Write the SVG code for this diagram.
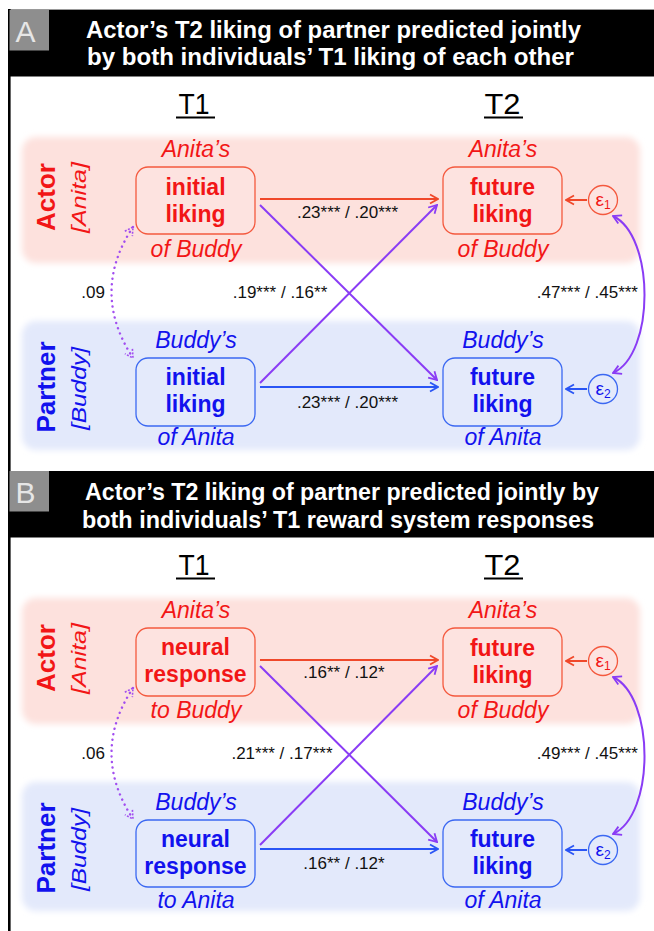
<svg xmlns="http://www.w3.org/2000/svg" width="654" height="931" viewBox="0 0 654 931">
<style>
.ttl{font-family:"Liberation Sans Narrow","Liberation Sans",Arial,sans-serif;font-weight:bold;font-size:23px;fill:#fff;text-anchor:middle}
.lt{font-family:"Liberation Sans",Arial,sans-serif;font-size:30px;fill:#e6e6e6;text-anchor:middle}
.tm{font-family:"Liberation Sans Narrow","Liberation Sans",Arial,sans-serif;font-size:29px;fill:#000;text-anchor:middle}
.side{font-family:"Liberation Sans",Arial,sans-serif;font-weight:bold;font-size:26px;text-anchor:middle}
.sidei{font-family:"Liberation Sans",Arial,sans-serif;font-style:italic;font-size:21px;text-anchor:middle}
.bt{font-family:"Liberation Sans",Arial,sans-serif;font-weight:bold;font-size:23px;text-anchor:middle}
.it{font-family:"Liberation Sans",Arial,sans-serif;font-style:italic;font-size:23px;text-anchor:middle}
.num{font-family:"Liberation Sans",Arial,sans-serif;font-size:17px;fill:#111}
.eps{font-family:"Liberation Sans",Arial,sans-serif;font-size:19px;text-anchor:middle}
.red{fill:#f21616}
.blue{fill:#1212ee}
.rbox{fill:#fde3e0;stroke:#f4593e;stroke-width:1.3}
.bbox{fill:#e4eafb;stroke:#3b68f2;stroke-width:1.3}
.band-r{fill:#fde1dd}
.band-b{fill:#e3e9fb}
.ar{fill:none;stroke:#f0482a;stroke-width:2}
.ab{fill:none;stroke:#2a55f5;stroke-width:2}
.ap{fill:none;stroke:#8a3cf5;stroke-width:2}
.dot{fill:none;stroke:#a24ef0;stroke-width:2.4;stroke-dasharray:0.1 5.5;stroke-linecap:round}
.ul{stroke:#000;stroke-width:1.8}
</style>
<defs>
<filter id="soft" x="-5%" y="-10%" width="110%" height="120%"><feGaussianBlur stdDeviation="3"/></filter>
<marker id="mr" markerUnits="userSpaceOnUse" markerWidth="12" markerHeight="12" viewBox="0 0 12 12" refX="11" refY="6" orient="auto-start-reverse"><path d="M3,1.5 L11,6 L3,10.5" fill="none" stroke="#f0482a" stroke-width="1.8"/></marker>
<marker id="mb" markerUnits="userSpaceOnUse" markerWidth="12" markerHeight="12" viewBox="0 0 12 12" refX="11" refY="6" orient="auto-start-reverse"><path d="M3,1.5 L11,6 L3,10.5" fill="none" stroke="#2a55f5" stroke-width="1.8"/></marker>
<marker id="mp" markerUnits="userSpaceOnUse" markerWidth="12" markerHeight="12" viewBox="0 0 12 12" refX="11" refY="6" orient="auto-start-reverse"><path d="M3,1.5 L11,6 L3,10.5" fill="none" stroke="#8a3cf5" stroke-width="1.8"/></marker>
<marker id="md" markerUnits="userSpaceOnUse" markerWidth="12" markerHeight="12" viewBox="0 0 12 12" refX="11" refY="6" orient="auto-start-reverse"><path d="M3,1.5 L11,6 L3,10.5" fill="none" stroke="#a24ef0" stroke-width="1.6" stroke-dasharray="2 1.5"/></marker>
</defs>
<rect x="0" y="0" width="654" height="931" fill="#fff"/>

<g id="frame">
<line x1="9" y1="9.5" x2="654" y2="9.5" stroke="#999" stroke-width="1"/>
<line x1="9.3" y1="9" x2="9.3" y2="931" stroke="#000" stroke-width="2.6"/>
</g>

<!-- ================= PANEL A ================= -->
<g id="headerA">
<rect x="8" y="10" width="646" height="66.5" fill="#000"/>
<rect x="9.5" y="10" width="39.5" height="40.5" fill="#8e8e8e"/>
<text class="lt" x="25.5" y="42">A</text>
<text class="ttl" x="333.5" y="38" textLength="495" lengthAdjust="spacingAndGlyphs">Actor’s T2 liking of partner predicted jointly</text>
<text class="ttl" x="330.5" y="65" textLength="487" lengthAdjust="spacingAndGlyphs">by both individuals’ T1 liking of each other</text>
</g>
<g id="timeA">
<text class="tm" x="194" y="113.5" textLength="31" lengthAdjust="spacingAndGlyphs">T1</text>
<line class="ul" x1="176" y1="117.5" x2="215" y2="117.5"/>
<text class="tm" x="502.5" y="113.5" textLength="36" lengthAdjust="spacingAndGlyphs">T2</text>
<line class="ul" x1="484" y1="117.5" x2="523" y2="117.5"/>
</g>
<g id="bandsA">
<rect class="band-r" x="22" y="137" width="618" height="126" rx="14" filter="url(#soft)"/>
<rect class="band-b" x="22" y="321" width="618" height="129" rx="14" filter="url(#soft)"/>
</g>
<g id="actorLabelA">
<text class="side red" transform="translate(55,197) rotate(-90)">Actor</text>
<text class="sidei red" transform="translate(86,197.5) rotate(-90)" textLength="71" lengthAdjust="spacingAndGlyphs">[Anita]</text>
</g>
<g id="partnerLabelA">
<text class="side blue" transform="translate(55,387) rotate(-90)">Partner</text>
<text class="sidei blue" transform="translate(86,388.5) rotate(-90)" textLength="83" lengthAdjust="spacingAndGlyphs">[Buddy]</text>
</g>

<g id="connectorsA">
<path class="ar" d="M260,199 H438" marker-end="url(#mr)"/>
<path class="ab" d="M260,387 H438" marker-end="url(#mb)"/>
<path class="ap" d="M260,205 L437,380" marker-end="url(#mp)"/>
<path class="ap" d="M260,383 L437,205" marker-end="url(#mp)"/>
<path class="ar" d="M587,200 H566" marker-end="url(#mr)"/>
<path class="ab" d="M587,389 H566" marker-end="url(#mb)"/>
<path class="dot" d="M133,227 Q90,292 133,358" marker-start="url(#md)" marker-end="url(#md)"/>
<path class="ap" d="M613,216 C655,236 655,354 613,373" marker-start="url(#mp)" marker-end="url(#mp)"/>
<text class="num" x="347.5" y="218" text-anchor="middle">.23*** / .20***</text>
<text class="num" x="347.5" y="408" text-anchor="middle">.23*** / .20***</text>
<text class="num" x="280" y="297.5" text-anchor="middle">.19*** / .16**</text>
<text class="num" x="105" y="297.5" text-anchor="end">.09</text>
<text class="num" x="638" y="298" text-anchor="end">.47*** / .45***</text>
</g>

<g id="nodeA_anitaInitial">
<text class="it red" x="196" y="157">Anita’s</text>
<rect class="rbox" x="136" y="167" width="119" height="67" rx="12"/>
<text class="bt red" x="195.5" y="195">initial</text>
<text class="bt red" x="195.5" y="222">liking</text>
<text class="it red" x="196" y="257">of Buddy</text>
</g>
<g id="nodeA_anitaFuture">
<text class="it red" x="503" y="157">Anita’s</text>
<rect class="rbox" x="443" y="167" width="119" height="67" rx="12"/>
<text class="bt red" x="502.5" y="195">future</text>
<text class="bt red" x="502.5" y="222">liking</text>
<text class="it red" x="503" y="257">of Buddy</text>
</g>
<g id="nodeA_eps1">
<circle cx="603" cy="200" r="14.5" fill="#fde3e0" stroke="#f4593e" stroke-width="1.3"/>
<text class="eps red" x="603" y="205.5">ε<tspan font-size="12" dy="3">1</tspan></text>
</g>
<g id="nodeA_buddyInitial">
<text class="it blue" x="196" y="348">Buddy’s</text>
<rect class="bbox" x="136" y="358" width="119" height="68" rx="12"/>
<text class="bt blue" x="195.5" y="385">initial</text>
<text class="bt blue" x="195.5" y="412">liking</text>
<text class="it blue" x="196" y="445">of Anita</text>
</g>
<g id="nodeA_buddyFuture">
<text class="it blue" x="503" y="348">Buddy’s</text>
<rect class="bbox" x="443" y="358" width="119" height="68" rx="12"/>
<text class="bt blue" x="502.5" y="385">future</text>
<text class="bt blue" x="502.5" y="412">liking</text>
<text class="it blue" x="503" y="445">of Anita</text>
</g>
<g id="nodeA_eps2">
<circle cx="603" cy="389" r="14.5" fill="#e4eafb" stroke="#3b68f2" stroke-width="1.3"/>
<text class="eps blue" x="603" y="394.5">ε<tspan font-size="12" dy="3">2</tspan></text>
</g>

<!-- ================= PANEL B ================= -->
<g id="headerB">
<rect x="8" y="471" width="646" height="66.5" fill="#000"/>
<rect x="9.5" y="471" width="39.5" height="40.5" fill="#8e8e8e"/>
<text class="lt" x="25.5" y="503">B</text>
<text class="ttl" x="342" y="500" textLength="514" lengthAdjust="spacingAndGlyphs">Actor’s T2 liking of partner predicted jointly by</text>
<text class="ttl" x="338" y="527.5" textLength="512" lengthAdjust="spacingAndGlyphs">both individuals’ T1 reward system responses</text>
</g>
<g id="timeB">
<text class="tm" x="194" y="574.5" textLength="31" lengthAdjust="spacingAndGlyphs">T1</text>
<line class="ul" x1="176" y1="578.5" x2="215" y2="578.5"/>
<text class="tm" x="502.5" y="574.5" textLength="36" lengthAdjust="spacingAndGlyphs">T2</text>
<line class="ul" x1="484" y1="578.5" x2="523" y2="578.5"/>
</g>
<g id="bandsB">
<rect class="band-r" x="22" y="598" width="618" height="126" rx="14" filter="url(#soft)"/>
<rect class="band-b" x="22" y="782" width="618" height="129" rx="14" filter="url(#soft)"/>
</g>
<g id="actorLabelB">
<text class="side red" transform="translate(55,658) rotate(-90)">Actor</text>
<text class="sidei red" transform="translate(86,658.5) rotate(-90)" textLength="71" lengthAdjust="spacingAndGlyphs">[Anita]</text>
</g>
<g id="partnerLabelB">
<text class="side blue" transform="translate(55,848) rotate(-90)">Partner</text>
<text class="sidei blue" transform="translate(86,849.5) rotate(-90)" textLength="83" lengthAdjust="spacingAndGlyphs">[Buddy]</text>
</g>

<g id="connectorsB">
<path class="ar" d="M260,660 H438" marker-end="url(#mr)"/>
<path class="ab" d="M260,849 H438" marker-end="url(#mb)"/>
<path class="ap" d="M260,666 L437,842" marker-end="url(#mp)"/>
<path class="ap" d="M260,845 L437,666" marker-end="url(#mp)"/>
<path class="ar" d="M587,661 H566" marker-end="url(#mr)"/>
<path class="ab" d="M587,850 H566" marker-end="url(#mb)"/>
<path class="dot" d="M133,688 Q90,753 133,819" marker-start="url(#md)" marker-end="url(#md)"/>
<path class="ap" d="M613,677 C655,697 655,815 613,834" marker-start="url(#mp)" marker-end="url(#mp)"/>
<text class="num" x="344" y="678" text-anchor="middle">.16** / .12*</text>
<text class="num" x="344" y="869" text-anchor="middle">.16** / .12*</text>
<text class="num" x="282" y="758.5" text-anchor="middle">.21*** / .17***</text>
<text class="num" x="105" y="758.5" text-anchor="end">.06</text>
<text class="num" x="638" y="759" text-anchor="end">.49*** / .45***</text>
</g>

<g id="nodeB_anitaNeural">
<text class="it red" x="196" y="618">Anita’s</text>
<rect class="rbox" x="136" y="628" width="119" height="68" rx="12"/>
<text class="bt red" x="195.5" y="655">neural</text>
<text class="bt red" x="195.5" y="682">response</text>
<text class="it red" x="196" y="718">to Buddy</text>
</g>
<g id="nodeB_anitaFuture">
<text class="it red" x="503" y="618">Anita’s</text>
<rect class="rbox" x="443" y="628" width="119" height="68" rx="12"/>
<text class="bt red" x="502.5" y="656">future</text>
<text class="bt red" x="502.5" y="683">liking</text>
<text class="it red" x="503" y="718">of Buddy</text>
</g>
<g id="nodeB_eps1">
<circle cx="603" cy="661" r="14.5" fill="#fde3e0" stroke="#f4593e" stroke-width="1.3"/>
<text class="eps red" x="603" y="666.5">ε<tspan font-size="12" dy="3">1</tspan></text>
</g>
<g id="nodeB_buddyNeural">
<text class="it blue" x="196" y="810">Buddy’s</text>
<rect class="bbox" x="136" y="820" width="119" height="67" rx="12"/>
<text class="bt blue" x="195.5" y="847">neural</text>
<text class="bt blue" x="195.5" y="874">response</text>
<text class="it blue" x="196" y="908">to Anita</text>
</g>
<g id="nodeB_buddyFuture">
<text class="it blue" x="503" y="810">Buddy’s</text>
<rect class="bbox" x="443" y="820" width="119" height="67" rx="12"/>
<text class="bt blue" x="502.5" y="847">future</text>
<text class="bt blue" x="502.5" y="874">liking</text>
<text class="it blue" x="503" y="908">of Anita</text>
</g>
<g id="nodeB_eps2">
<circle cx="603" cy="850" r="14.5" fill="#e4eafb" stroke="#3b68f2" stroke-width="1.3"/>
<text class="eps blue" x="603" y="855.5">ε<tspan font-size="12" dy="3">2</tspan></text>
</g>
</svg>
